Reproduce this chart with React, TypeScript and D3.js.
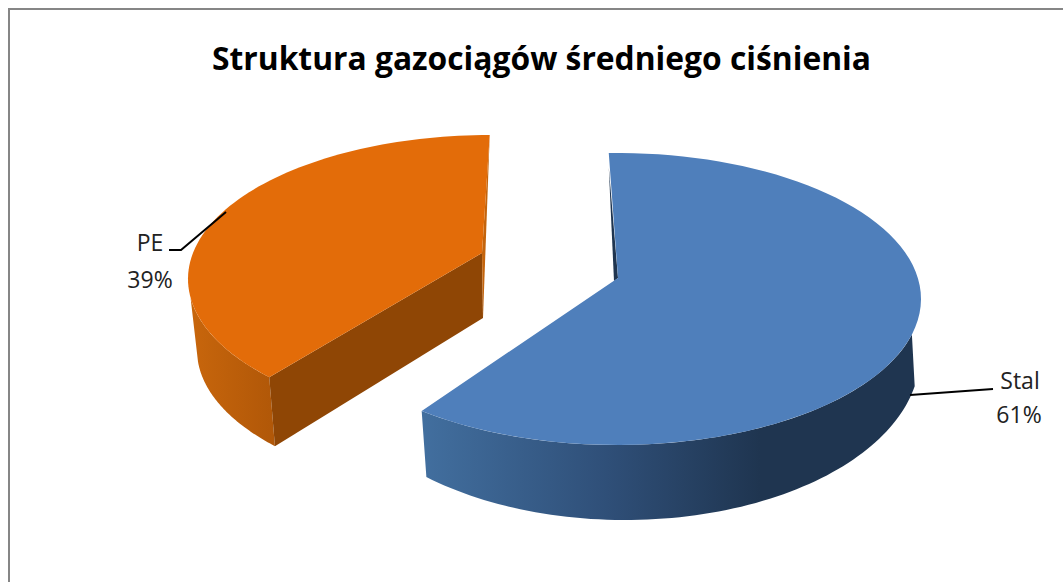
import React from "react";
import * as d3 from "d3";

const categories = ["Stal", "PE"];
const shares = [60.3, 39.7];
const percentLabels = ["61%", "39%"];
const titleText = "Struktura gazociągów średniego ciśnienia";

const rad = (d: number) => (d * Math.PI) / 180;
const pieAngles = d3.pie<number>().sort(null).startAngle(rad(-2)).endAngle(rad(358))(shares);

type Ring = { cx: number; cy: number; rx: number; ry: number; apex: [number, number] };
type Pt = [number, number];

// perspective: the circle's centre falls off-centre of its projected ellipse
function project(ring: Ring, theta: number, radius = 1): Pt {
  const x = d3.scaleLinear().domain([-1, 1]).range([ring.cx - ring.rx, ring.cx + ring.rx]);
  const y = d3.scaleLinear().domain([-1, 1]).range([ring.cy - ring.ry, ring.cy + ring.ry]);
  const px = x.invert(ring.apex[0]);
  const py = y.invert(ring.apex[1]);
  const qx = Math.sin(theta) * radius;
  const qy = -Math.cos(theta) * radius;
  const g = 1 / Math.sqrt(1 - px * px - py * py);
  const dot = px * qx + py * qy;
  const k = (g / (1 + g)) * dot;
  const den = 1 + dot;
  return [x((px + qx / g + k * px) / den), y((py + qy / g + k * py) / den)];
}

const arcPts = (ring: Ring, a0: number, a1: number): Pt[] =>
  d3.range(0, 81).map((i) => project(ring, a0 + ((a1 - a0) * i) / 80));

const linePath = d3.line<Pt>().curve(d3.curveLinear);

const blueTop: Ring = { cx: 617, cy: 299, rx: 304, ry: 146, apex: [618, 278] };
const blueBottom: Ring = { cx: 625, cy: 355, rx: 295, ry: 165, apex: [625, 322] };
const orangeTop: Ring = { cx: 491, cy: 279, rx: 303, ry: 144, apex: [482, 253] };
const orangeBottom: Ring = { cx: 497, cy: 350, rx: 300, ry: 143, apex: [483, 318] };

const orangeTurn = rad(3.6);
const orangeBottomLag = rad(1.7);

export default function App() {
  const blue0 = pieAngles[0].startAngle;
  const blue1 = pieAngles[0].endAngle;
  const orange0 = pieAngles[1].startAngle + orangeTurn;
  const orange1 = pieAngles[1].endAngle + orangeTurn;

  const blueFace = [blueTop.apex, ...arcPts(blueTop, blue0, blue1)] as Pt[];
  const blueWallFrom = rad(112);
  const blueWall = [
    ...arcPts(blueTop, blueWallFrom, blue1),
    ...arcPts(blueBottom, blueWallFrom, blue1).reverse(),
  ];
  const blueStart = project(blueTop, blue0);
  const blueSliver: Pt[] = [
    [blueStart[0], blueStart[1] + 14],
    blueTop.apex,
    [blueTop.apex[0] - 4, blueTop.apex[1] + 3],
  ];

  const orangeFace = [orangeTop.apex, ...arcPts(orangeTop, orange0, orange1)] as Pt[];
  const orangeWallFrom = rad(252);
  const orangeWall = [
    ...arcPts(orangeTop, orange0, orangeWallFrom),
    ...arcPts(orangeBottom, orange0 - orangeBottomLag, orangeWallFrom).reverse(),
  ];
  const orangeCut: Pt[] = [
    orangeTop.apex,
    project(orangeTop, orange0),
    project(orangeBottom, orange0 - orangeBottomLag),
    orangeBottom.apex,
  ];
  const orangeBack: Pt[] = [project(orangeTop, orange1), orangeTop.apex, orangeBottom.apex];

  const labelFont = "'Open Sans', sans-serif";

  return (
    <svg
      width={1063}
      height={582}
      viewBox="0 0 1063 582"
      style={{ position: "absolute", left: 0, top: 0, display: "block", background: "#fff" }}
    >
      <defs>
        <linearGradient id="blueSide" gradientUnits="userSpaceOnUse" x1={421} x2={760} y1={0} y2={0}>
          <stop offset="0" stopColor="#426f9f" />
          <stop offset="0.55" stopColor="#2f4f78" />
          <stop offset="1" stopColor="#1f3550" />
        </linearGradient>
        <linearGradient id="orangeSide" gradientUnits="userSpaceOnUse" x1={190} x2={276} y1={0} y2={0}>
          <stop offset="0" stopColor="#c8660c" />
          <stop offset="1" stopColor="#b05708" />
        </linearGradient>
      </defs>

      <path d="M9,582 L9,9 L1063,9" fill="none" stroke="#868686" strokeWidth={2} />

      <text
        x={212}
        y={70}
        textLength={659}
        lengthAdjust="spacingAndGlyphs"
        fontFamily={labelFont}
        fontWeight={700}
        fontSize={32}
        fill="#000"
      >
        {titleText}
      </text>

      <path d={linePath(orangeWall)!} fill="url(#orangeSide)" />
      <path d={linePath(orangeCut)! + "Z"} fill="#8f4605" />
      <path d={linePath(orangeBack)! + "Z"} fill="#c4640c" />
      <path d={linePath(orangeFace)! + "Z"} fill="#e36c09" />

      <path d={linePath(blueWall)! + "Z"} fill="url(#blueSide)" />
      <path d={linePath(blueSliver)! + "Z"} fill="#1f3550" />
      <path d={linePath(blueFace)! + "Z"} fill="#4f7fbb" />

      <path d="M169,250 L181,250 L226,212" fill="none" stroke="#000" strokeWidth={2} />
      <path d="M910,395 L993,389" fill="none" stroke="#000" strokeWidth={2} />

      <text x={150} y={251} textAnchor="middle" fontFamily={labelFont} fontSize={23} fill="#222">
        {categories[1]}
      </text>
      <text x={150} y={288} textAnchor="middle" fontFamily={labelFont} fontSize={23} fill="#222">
        {percentLabels[1]}
      </text>
      <text x={1020} y={389} textAnchor="middle" fontFamily={labelFont} fontSize={23} fill="#222">
        {categories[0]}
      </text>
      <text x={1019} y={423} textAnchor="middle" fontFamily={labelFont} fontSize={23} fill="#222">
        {percentLabels[0]}
      </text>
    </svg>
  );
}
